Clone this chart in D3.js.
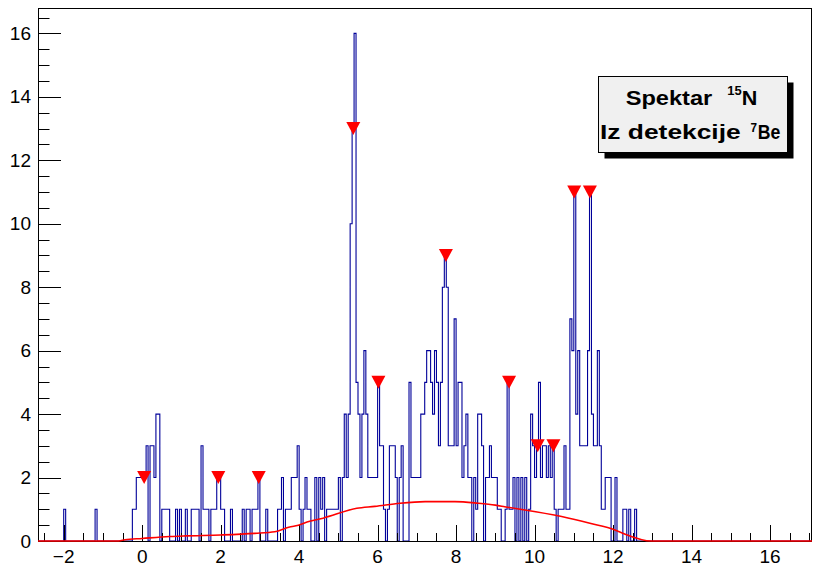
<!DOCTYPE html>
<html><head><meta charset="utf-8">
<script src="https://cdn.jsdelivr.net/npm/d3@7"></script>
<style>body{margin:0;background:#fff}svg{display:block}</style>
</head><body>
<svg id="c" width="813" height="568"></svg>
<script>
// ---------- data ----------
const binWidth = 0.05;
const histStart = -2.65;
const histEnd = 17.05;
const binLow = [
 -2.00,-1.20,-0.25,-0.20,-0.15,-0.10,-0.05,0.00,0.05,0.10,0.20,0.25,0.30,0.35,0.40,
 0.50,0.55,0.60,0.65,0.85,0.95,1.10,1.25,1.30,1.35,1.40,1.50,1.55,1.60,1.65,1.75,1.80,1.85,
 1.90,1.95,2.00,2.05,2.25,2.55,2.65,2.70,2.80,2.85,2.90,2.95,3.15,3.45,3.50,3.55,3.65,3.70,3.75,
 3.80,3.85,3.90,3.95,4.00,4.10,4.15,4.20,4.25,4.40,4.50,4.55,4.60,4.70,4.75,4.80,4.85,4.90,4.95,
 5.00,5.10,5.15,5.20,5.25,5.30,5.35,5.40,5.45,5.50,5.55,5.60,5.65,5.70,5.75,5.80,5.85,5.90,5.95,
 6.00,6.05,6.10,6.15,6.25,6.30,6.35,6.40,6.45,6.55,6.60,6.80,6.85,6.90,6.95,7.00,7.05,7.10,7.15,
 7.20,7.25,7.30,7.35,7.40,7.45,7.50,7.55,7.60,7.65,7.70,7.75,7.80,7.85,7.90,7.95,8.00,8.05,8.10,
 8.15,8.20,8.25,8.30,8.35,8.45,8.50,8.55,8.60,8.65,8.75,8.80,8.85,8.90,8.95,9.00,9.05,9.10,9.25,
 9.30,9.35,9.40,9.45,9.55,9.65,9.75,9.85,9.90,9.95,10.00,10.05,10.10,10.15,10.20,10.25,10.30,
 10.35,10.40,10.45,10.50,10.60,10.65,10.70,10.75,10.80,10.85,10.90,10.95,11.00,11.05,11.10,11.15,
 11.20,11.25,11.30,11.35,11.40,11.45,11.50,11.55,11.60,11.65,11.70,11.75,11.80,11.85,11.90,12.05,
 12.25,12.30,12.40,12.55];
const binCount = [
 1,1,1,1,2,2,2,2,2,3,3,3,2,4,4,
 1,1,1,1,1,1,1,1,1,1,1,3,1,1,1,1,1,1,
 2,2,1,1,1,1,1,1,1,1,1,2,1,1,1,2,1,1,1,
 2,2,2,3,1,1,2,1,1,2,2,1,2,1,1,1,1,1,1,
 2,2,4,2,4,10,13,16,5,4,2,4,6,4,2,2,2,2,2,
 5,3,3,1,1,3,3,3,2,2,3,5,2,2,2,2,2,4,4,
 5,6,6,5,4,6,5,3,5,8,9,8,3,3,3,7,3,5,5,
 2,3,4,2,2,2,1,4,4,3,2,2,3,2,2,2,1,1,1,
 5,1,1,2,2,2,2,1,4,3,2,3,5,2,3,3,2,
 3,2,3,1,1,1,1,3,1,1,7,6,11,4,6,3,
 3,3,3,6,11,4,3,3,6,3,1,1,2,2,2,2,
 1,1,1,1];

// fitted curve
const fitX = [-2.655,-0.6,-0.44,0.0,0.7,1.1,2.0,2.87,3.38,3.76,3.89,4.27,4.61,5.47,5.93,6.57,7.21,7.97,8.56,9.0,9.24,10.69,11.41,12.05,12.26,12.98,17.07];
const fitY = [0,0,0.04,0.08,0.14,0.16,0.19,0.24,0.29,0.44,0.47,0.62,0.72,1.03,1.09,1.19,1.24,1.24,1.19,1.13,1.08,0.77,0.56,0.35,0.24,0,0];

// peak markers
const peakX = [0.05,1.94,2.97,5.38,6.02,7.74,9.35,10.08,10.48,11.01,11.41];
const peakY = [2,2,2,13,5,9,5,3,3,11,11];

const xTickValues = [-2,0,2,4,6,8,10,12,14,16];
const yTickValues = [0,2,4,6,8,10,12,14,16];

// ---------- drawing ----------
const svg = d3.select('#c');
const L = 38, R = 812, T = 8, B = 541;
const x = d3.scaleLinear().domain([-2.655, 17.07]).range([L, R]);
const y = d3.scaleLinear().domain([0, 16.8]).range([B, T]);

svg.append('rect').attr('width',813).attr('height',568).attr('fill','#fff');
svg.append('defs').append('clipPath').attr('id','clip')
  .append('rect').attr('x',L).attr('y',T).attr('width',R-L).attr('height',B-T);

// full histogram
const nBins = Math.round((histEnd - histStart)/binWidth);
const counts = new Array(nBins).fill(0);
binLow.forEach((v,i)=>{ const k = Math.round((v-histStart)/binWidth); if(k>=0&&k<nBins) counts[k]=binCount[i]; });
const pts = [[histStart,0]];
counts.forEach((c,k)=>{ const lo = histStart + k*binWidth; pts.push([lo,c]); pts.push([lo+binWidth,c]); });
pts.push([histEnd,0]);
const hline = d3.line().x(d=>x(d[0])).y(d=>y(d[1]));
svg.append('path').attr('clip-path','url(#clip)')
  .attr('d', hline(pts)).attr('fill','none').attr('stroke','#000099').attr('stroke-width',1.1);

// frame
svg.append('rect').attr('x',L+0.5).attr('y',T+0.5).attr('width',R-L-1).attr('height',B-T)
  .attr('fill','none').attr('stroke','#000').attr('stroke-width',1);

// x ticks (inside)
const xMinor = d3.range(-2.5, 17.01, 0.5);
const gx = svg.append('g').attr('stroke','#000').attr('stroke-width',1);
xMinor.forEach(v=>{
  const major = Math.abs(v/2 - Math.round(v/2))<1e-6;
  const len = major ? 16 : 8;
  gx.append('line').attr('x1',Math.round(x(v))+0.5).attr('x2',Math.round(x(v))+0.5)
    .attr('y1',B).attr('y2',B-len);
});
const fmt = v => (v<0 ? '\u2212' + Math.abs(v) : '' + v);
svg.append('g').selectAll('text').data(xTickValues).join('text')
  .attr('x',d=>x(d)).attr('y',563).attr('text-anchor','middle')
  .attr('font-family','Liberation Sans, Arial, sans-serif').attr('font-size',19)
  .text(fmt);

// y ticks (inside)
const yMinor = d3.range(0.5, 16.51, 0.5);
const gy = svg.append('g').attr('stroke','#000').attr('stroke-width',1);
yMinor.forEach(v=>{
  const major = Math.abs(v/2 - Math.round(v/2))<1e-6;
  const len = major ? 23 : 11.5;
  gy.append('line').attr('x1',L).attr('x2',L+len)
    .attr('y1',Math.round(y(v))+0.5).attr('y2',Math.round(y(v))+0.5);
});
svg.append('g').selectAll('text').data(yTickValues).join('text')
  .attr('x',31).attr('y',d=>y(d)+6.5).attr('text-anchor','end')
  .attr('font-family','Liberation Sans, Arial, sans-serif').attr('font-size',19)
  .text(fmt);

// fitted function
const fline = d3.line().x((d,i)=>x(fitX[i])).y(d=>y(d)).curve(d3.curveMonotoneX);
svg.append('path').attr('d', fline(fitY)).attr('fill','none')
  .attr('stroke','#ff0000').attr('stroke-width',1.6);

// peak markers (down triangles)
svg.append('g').selectAll('path').data(peakX).join('path')
  .attr('transform',(d,i)=>`translate(${x(d)},${y(peakY[i])})`)
  .attr('d','M-7,-6.5L7,-6.5L0,6.5Z').attr('fill','#ff0000');

// legend box
const bx = 598.5, by = 76.5, bw = 189, bh = 76;
svg.append('rect').attr('x',bx+6).attr('y',by+6).attr('width',bw).attr('height',bh).attr('fill','#000');
svg.append('rect').attr('x',bx).attr('y',by).attr('width',bw).attr('height',bh)
  .attr('fill','#f0f0f0').attr('stroke','#000').attr('stroke-width',1);
const tf = 'Liberation Sans, Arial, Helvetica, sans-serif';
function t(str, x0, w, base, size){
  svg.append('text').attr('x',x0).attr('y',base).attr('font-family',tf).attr('font-weight','bold')
    .attr('font-size',size).attr('textLength',w).attr('lengthAdjust','spacingAndGlyphs').text(str);
}
t('Spektar', 625.7, 86.6, 104.5, 19.5);
t('15', 727.3, 14.4, 95, 13.5);
t('N', 741.7, 15.6, 104.5, 19.5);
t('Iz detekcije', 600, 140.7, 138.5, 19.5);
t('7', 750.5, 6.5, 132.3, 13.5);
t('Be', 757.7, 22.6, 138.5, 19.5);
</script>
</body></html>
